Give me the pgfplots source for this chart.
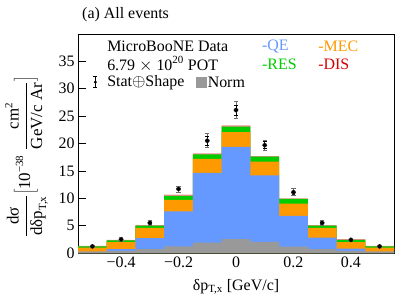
\documentclass[border=0pt]{standalone}
\usepackage{fontspec}
\setmainfont{Liberation Serif}
\usepackage{pgfplots}
\pgfplotsset{compat=1.18}
\definecolor{qe}{RGB}{102,153,255}
\definecolor{mec}{RGB}{255,153,0}
\definecolor{res}{RGB}{0,204,0}
\definecolor{dis}{RGB}{212,0,0}
\definecolor{disbar}{RGB}{240,140,140}
\definecolor{norm}{RGB}{153,153,153}
\newcommand{\bigf}{\fontsize{16}{19}\selectfont}
\newcommand{\smf}{\fontsize{11}{11}\selectfont}
\newcommand{\ssmf}{\fontsize{11}{11}\selectfont}
\begin{document}
\begin{tikzpicture}
\begin{axis}[
  scale only axis, width=316bp, height=219bp,
  xmin=-0.55, xmax=0.55, ymin=0, ymax=40,
  xtick={-0.4,-0.2,0,0.2,0.4},
  xticklabels={−0.4,−0.2,0,0.2,0.4},
  ytick={0,5,10,15,20,25,30,35},
  tick align=inside, major tick length=8bp,
  xtick pos=bottom, ytick pos=left,
  tick style={black, line width=0.6pt},
  axis line style={line width=0.6pt},
  ticklabel style={font=\bigf},
  /pgf/number format/assume math mode=true,
  label style={font=\bigf},
  xlabel={δp$_{\mbox{\smf T,x}}$ [GeV/c]},
  xlabel style={at={(axis description cs:0.5,-0.155)}, anchor=center},
  ylabel={\fontsize{17}{19}\selectfont$\displaystyle\frac{\mbox{dσ}}{\mbox{dδp}_{\mbox{\ssmf T,x}}}\bigg[\mbox{10}^{\mbox{\ssmf −38}}\;\frac{\mbox{cm}^{\mbox{\ssmf 2}}}{\mbox{GeV/c Ar}}\bigg]$},
  ylabel style={at={(axis description cs:-0.163,0.44)}, anchor=center},
  clip=true,
]
% cumulative stacks: DIS top, RES top, MEC top, QE
\addplot[ybar, bar width=0.1, bar shift=0pt, fill=disbar, draw=none] coordinates {
(-0.5,1.3) (-0.4,2.4) (-0.3,5.1) (-0.2,10.65) (-0.1,18.2) (0,23.3) (0.1,17.7) (0.2,10.0) (0.3,5.1) (0.4,2.55) (0.5,1.3)};
\addplot[ybar, bar width=0.1, bar shift=0pt, fill=res, draw=none] coordinates {
(-0.5,1.22) (-0.4,2.3) (-0.3,5.0) (-0.2,10.45) (-0.1,18.0) (0,23.1) (0.1,17.6) (0.2,9.9) (0.3,5.0) (0.4,2.4) (0.5,1.22)};
\addplot[ybar, bar width=0.1, bar shift=0pt, fill=mec, draw=none] coordinates {
(-0.5,0.97) (-0.4,2.0) (-0.3,4.6) (-0.2,9.7) (-0.1,17.2) (0,22.1) (0.1,16.7) (0.2,9.0) (0.3,4.6) (0.4,2.0) (0.5,0.97)};
\addplot[ybar, bar width=0.1, bar shift=0pt, fill=qe, draw=none] coordinates {
(-0.5,0.25) (-0.4,0.7) (-0.3,2.7) (-0.2,7.6) (-0.1,14.65) (0,19.4) (0.1,14.2) (0.2,6.8) (0.3,2.8) (0.4,0.8) (0.5,0.25)};
\addplot[ybar, bar width=0.1, bar shift=0pt, fill=norm, draw=none] coordinates {
(-0.5,0.2) (-0.4,0.4) (-0.3,0.7) (-0.2,1.2) (-0.1,1.9) (0,2.55) (0.1,2.05) (0.2,1.15) (0.3,0.7) (0.4,0.4) (0.5,0.2)};
% data: outer (grey) and inner (black) error bars
\addplot[only marks, mark=none, draw=norm!80!black, line width=0.8pt,
  error bars/.cd, y dir=both, y explicit, error bar style={line width=0.8pt, norm!70!black}, error mark options={rotate=90, mark size=2.2pt, line width=0.8pt, norm!70!black}]
  table[x=x, y=y, y error=eo] {
x y eo ei
-0.5 1.2 0.25 0.15
-0.4 2.5 0.35 0.2
-0.3 5.5 0.45 0.3
-0.2 11.7 0.55 0.35
-0.1 20.5 1.3 0.8
0 26.1 1.5 0.9
0.1 19.7 0.95 0.6
0.2 11.1 0.65 0.4
0.3 5.5 0.45 0.3
0.4 2.4 0.35 0.2
0.5 1.2 0.25 0.15
};
\addplot[only marks, mark=*, mark size=1.8pt, black, line width=0.8pt,
  error bars/.cd, y dir=both, y explicit, error bar style={line width=0.8pt, black}, error mark options={rotate=90, mark size=1.8pt, line width=0.8pt, black}]
  table[x=x, y=y, y error=ei] {
x y eo ei
-0.5 1.2 0.25 0.15
-0.4 2.5 0.35 0.2
-0.3 5.5 0.45 0.3
-0.2 11.7 0.55 0.35
-0.1 20.5 1.3 0.8
0 26.1 1.5 0.9
0.1 19.7 0.95 0.6
0.2 11.1 0.65 0.4
0.3 5.5 0.45 0.3
0.4 2.4 0.35 0.2
0.5 1.2 0.25 0.15
};
% legend
\node[anchor=west, font=\bigf, inner sep=0pt] at (rel axis cs:0.092,0.945) {MicroBooNE Data};
\node[anchor=west, font=\bigf, inner sep=0pt] at (rel axis cs:0.092,0.863) {6.79 $\times$ 10$^{\mbox{\smf 20}}$ POT};
\node[anchor=west, font=\bigf, inner sep=0pt] at (rel axis cs:0.092,0.78) {Stat$\oplus$Shape};
\draw[black, line width=0.7pt] (rel axis cs:0.055,0.755) -- (rel axis cs:0.055,0.805)
  (rel axis cs:0.049,0.755) -- (rel axis cs:0.061,0.755)
  (rel axis cs:0.049,0.805) -- (rel axis cs:0.061,0.805);
\fill[black] (rel axis cs:0.055,0.78) circle (1.6pt);
\fill[norm] (rel axis cs:0.373,0.755) rectangle (rel axis cs:0.407,0.805);
\node[anchor=west, font=\bigf, inner sep=0pt] at (rel axis cs:0.41,0.78) {Norm};
\node[anchor=west, font=\bigf, inner sep=0pt, text=qe] at (rel axis cs:0.582,0.945) {-QE};
\node[anchor=west, font=\bigf, inner sep=0pt, text=mec] at (rel axis cs:0.76,0.945) {-MEC};
\node[anchor=west, font=\bigf, inner sep=0pt, text=res] at (rel axis cs:0.582,0.863) {-RES};
\node[anchor=west, font=\bigf, inner sep=0pt, text=dis] at (rel axis cs:0.76,0.863) {-DIS};
\end{axis}
\node[anchor=west, font=\bigf, inner sep=0pt] at ([xshift=4bp, yshift=19bp]current axis.north west) {(a) All events};
\pgfresetboundingbox
\path[use as bounding box] ([xshift=-78bp, yshift=-42bp]current axis.south west) rectangle ([xshift=13bp, yshift=34bp]current axis.north east);
\end{tikzpicture}
\end{document}
